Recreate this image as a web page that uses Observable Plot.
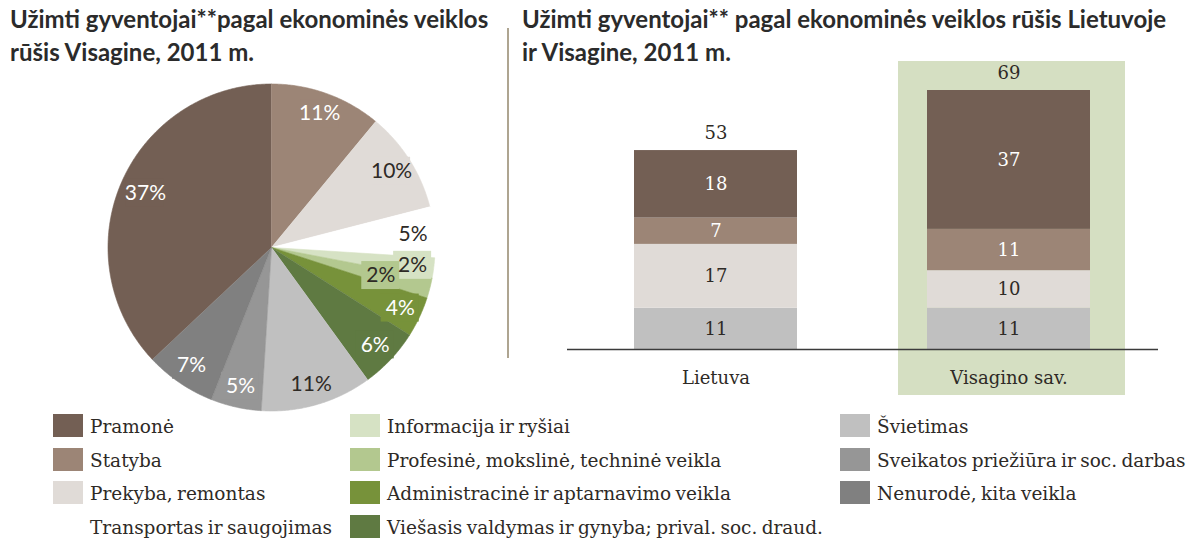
<!DOCTYPE html>
<html>
<head>
<meta charset="utf-8">
<script src="https://cdn.jsdelivr.net/npm/d3@7"></script>
<script src="https://cdn.jsdelivr.net/npm/@observablehq/plot@0.6"></script>
<style>
  body { margin: 0; background: #fff; }
  #root { position: relative; width: 1188px; height: 538px; overflow: hidden; background: #fff; }
  .title { position: absolute; font-family: Lato, "Open Sans", sans-serif; font-weight: 700; font-size: 24px; line-height: 33px; color: #2b2b2b; white-space: nowrap; }
  .chart { position: absolute; }
  .divider { position: absolute; left: 507px; top: 28px; width: 2px; height: 330px; background: #aea591; }
  .lg-sw { position: absolute; width: 30px; height: 23px; }
  .lg-tx { position: absolute; font-family: "DejaVu Serif", serif; font-size: 18.5px; word-spacing: -1.5px; line-height: 23px; color: #2e2a26; white-space: nowrap; }
</style>
</head>
<body>
<div id="root">
  <div class="title" style="left:10px;top:2px;">Užimti gyventojai**pagal ekonominės veiklos<br>rūšis Visagine, 2011 m.</div>
  <div class="title" style="left:522px;top:2px;">Užimti gyventojai** pagal ekonominės veiklos rūšis Lietuvoje<br>ir Visagine, 2011 m.</div>
  <div class="divider"></div>
  <div id="pie" class="chart" style="left:0;top:0;"></div>
  <div id="bars" class="chart" style="left:520px;top:0;"></div>
  <div id="legend"></div>
</div>
<script>
// ---- Data ----
const categories = [
  "Pramonė",
  "Statyba",
  "Prekyba, remontas",
  "Transportas ir saugojimas",
  "Informacija ir ryšiai",
  "Profesinė, mokslinė, techninė veikla",
  "Administracinė ir aptarnavimo veikla",
  "Viešasis valdymas ir gynyba; prival. soc. draud.",
  "Švietimas",
  "Sveikatos priežiūra ir soc. darbas",
  "Nenurodė, kita veikla"
];
const categoryColors = [
  "#735f54", "#9c8576", "#e0dbd7", "#ffffff", "#d6e2c4", "#b3c88f",
  "#77923a", "#5f7a42", "#c0c0c0", "#969696", "#808080"
];
// Visaginas shares (%), pie
const visaginasShares = [37, 11, 10, 5, 2, 2, 4, 6, 11, 5, 7];

// Bar chart
const regions = ["Lietuva", "Visagino sav."];
const barCategories = ["Švietimas", "Prekyba, remontas", "Statyba", "Pramonė"]; // bottom to top
const lietuvaValues = [11, 17, 7, 18];
const visaginoValues = [11, 10, 11, 37];
const regionTotals = [53, 69];
const highlightedRegion = "Visagino sav.";

// ---- Helpers ----
const colorOf = c => categoryColors[categories.indexOf(c)];
const textOn = col => d3.hsl(col).l < 0.62 ? "#ffffff" : "#2e2a26";

// ---- Pie ----
const pieRows = categories.map((c, i) => ({cat: c, value: visaginasShares[i], color: categoryColors[i]}));
const total = d3.sum(visaginasShares);
const start = -2 * Math.PI * visaginasShares[0] / total; // first slice ends at 12 o'clock
const arcs = d3.pie().sort(null).value(d => d.value).startAngle(start).endAngle(start + 2 * Math.PI)(pieRows);

const slicePts = [];
arcs.forEach(a => {
  const n = Math.max(2, Math.ceil((a.endAngle - a.startAngle) / (Math.PI / 360)));
  slicePts.push({cat: a.data.cat, color: a.data.color, x: 0, y: 0});
  for (let k = 0; k <= n; k++) {
    const t = a.startAngle + (a.endAngle - a.startAngle) * k / n;
    slicePts.push({cat: a.data.cat, color: a.data.color, x: Math.sin(t), y: Math.cos(t)});
  }
});

let smallToggle = false;
const pieLabels = arcs.map(a => {
  const mid = (a.startAngle + a.endAngle) / 2;
  const share = a.data.value / total;
  let r = share > 0.3 ? 0.84 : 0.87;
  if (share < 0.03) { if (smallToggle) r = 0.69; smallToggle = !smallToggle; } else smallToggle = false;
  return {cat: a.data.cat, color: a.data.color, tcolor: textOn(a.data.color),
          x: r * Math.sin(mid), y: r * Math.cos(mid), label: a.data.value + "%"};
});

const pie = Plot.plot({
  width: 505, height: 415,
  margin: 0,
  x: {domain: [-1, 1], range: [107.5, 434.5], axis: null},
  y: {domain: [-1, 1], range: [410.5, 83.5], axis: null},
  color: {type: "identity"},
  marks: [
    Plot.line(slicePts, {x: "x", y: "y", z: "cat", fill: "color", stroke: "color", strokeWidth: 0.6, curve: "linear"}),
    Plot.rect(pieLabels, {x1: "x", x2: "x", y1: "y", y2: "y", fill: "color",
      insetLeft: -19, insetRight: -19, insetTop: -14, insetBottom: -14}),
    Plot.text(pieLabels, {x: "x", y: "y", text: "label", fill: "tcolor",
      fontSize: 21, fontFamily: "Lato, 'Open Sans', sans-serif"})
  ]
});
document.getElementById("pie").appendChild(pie);

// ---- Bars ----
const barRows = [];
regions.forEach((r, ri) => {
  const vals = ri === 0 ? lietuvaValues : visaginoValues;
  barCategories.forEach((c, ci) => {
    barRows.push({region: r, cat: c, value: vals[ci], color: colorOf(c), tcolor: textOn(colorOf(c))});
  });
});
const totalRows = regions.map((r, i) => ({region: r, total: regionTotals[i]}));

const bars = Plot.plot({
  width: 668, height: 410,
  marginLeft: 47, marginRight: 30, marginTop: 90, marginBottom: 61,
  x: {domain: regions, range: [113, 571], paddingInner: 0.442, paddingOuter: 0, label: null,
      tickSize: 0, tickPadding: 22},
  y: {domain: [0, d3.max(regionTotals)], axis: null},
  color: {type: "identity"},
  style: {fontFamily: "'DejaVu Serif', serif", fontSize: "18px", color: "#2e2a26", background: "transparent"},
  marks: [
    Plot.barY(totalRows.filter(d => d.region === highlightedRegion), {x: "region", y: "total", fill: "#d5dfc2",
      insetTop: -29, insetBottom: -46, insetLeft: -29, insetRight: -35}),
    Plot.barY(barRows, {x: "region", y: "value", fill: "color", order: null}),
    Plot.text(barRows, Plot.stackY({x: "region", y: "value", text: d => String(d.value), fill: "tcolor",
      fontSize: 18, fontFamily: "'DejaVu Serif', serif"})),
    Plot.text(totalRows, {x: "region", y: "total", text: d => String(d.total), dy: -17, fill: "#2e2a26",
      fontSize: 18, fontFamily: "'DejaVu Serif', serif"}),
    Plot.ruleY([0], {stroke: "#3b3b3b", strokeWidth: 1.5}),
    Plot.axisX({tickSize: 0, tickPadding: 22, fontSize: 18, fill: "#2e2a26", label: null})
  ]
});
document.getElementById("bars").appendChild(bars);

// ---- Legend ----
const legend = document.getElementById("legend");
const colX = [53, 350, 840];
const rowY = [414, 447.5, 481, 514.5];
categories.forEach((c, i) => {
  const col = i < 4 ? 0 : i < 8 ? 1 : 2;
  const row = col === 2 ? i - 8 : i % 4;
  const sw = document.createElement("div");
  sw.className = "lg-sw";
  sw.style.left = colX[col] + "px";
  sw.style.top = rowY[row] + "px";
  sw.style.background = categoryColors[i];
  legend.appendChild(sw);
  const tx = document.createElement("div");
  tx.className = "lg-tx";
  tx.style.left = (colX[col] + 37) + "px";
  tx.style.top = (rowY[row] + 1) + "px";
  tx.textContent = c;
  legend.appendChild(tx);
});
</script>
</body>
</html>
